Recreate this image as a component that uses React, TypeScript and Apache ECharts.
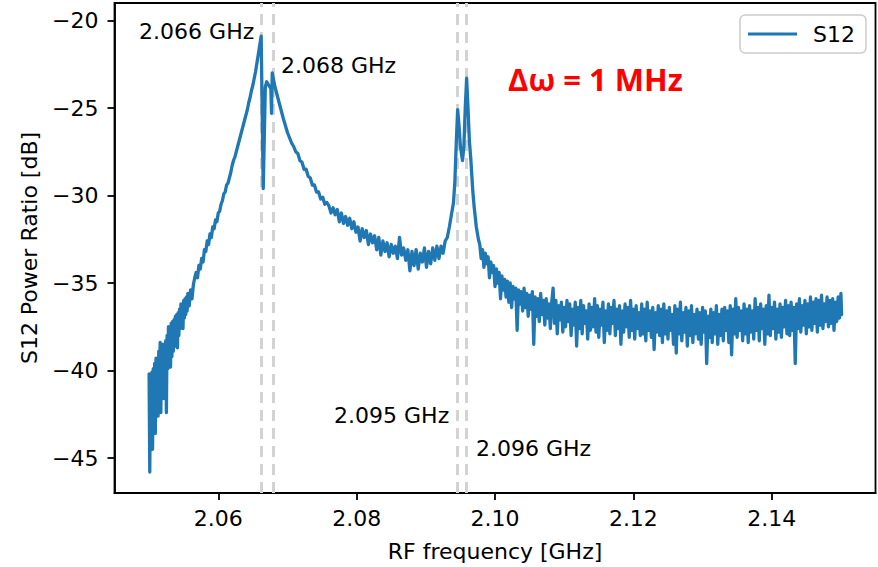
import React, { useEffect, useRef } from "react";
import * as echarts from "echarts";

// ---- data ----
const rampStart: [number, number][] = [
  [2.05, -40.2], [2.0501, -45.8], [2.0502, -40.3], [2.0503, -43.9], [2.0504, -40.1], [2.0505, -44.5],
  [2.0506, -39.9], [2.0507, -42.8], [2.0508, -39.6], [2.0509, -43.6], [2.051, -39.3], [2.0511, -41.9],
  [2.0512, -39.4], [2.0513, -42.6], [2.0514, -38.9], [2.0515, -41.5], [2.0516, -38.4], [2.0517, -42.4],
  [2.0518, -38.8], [2.0519, -40.9], [2.052, -38.5], [2.0521, -41.6], [2.0522, -38.6], [2.0523, -40.8],
  [2.0524, -38.3], [2.0525, -42.4], [2.0526, -38.0], [2.0527, -39.9], [2.0528, -37.5], [2.0529, -39.6],
  [2.053, -37.8], [2.0531, -39.8], [2.0532, -37.3], [2.0533, -39.2], [2.0534, -37.2], [2.0535, -38.9],
  [2.0536, -37.1], [2.0537, -38.6], [2.0538, -36.9], [2.0539, -38.4], [2.054, -36.8], [2.0541, -38.7],
  [2.0542, -36.7], [2.0543, -38.0], [2.0544, -36.5], [2.0545, -37.6], [2.0546, -36.2], [2.0547, -37.4],
  [2.0548, -36.3], [2.0549, -37.6], [2.055, -36.0], [2.0551, -37.0], [2.0552, -35.9], [2.0553, -36.8],
  [2.0554, -35.8], [2.0555, -36.6], [2.0556, -35.6], [2.0558, -36.3], [2.056, -35.4], [2.0562, -35.9],
  [2.0564, -35.1],
];

const riseToPeak: [number, number][] = [
  [2.0566, -34.7], [2.0568, -34.4], [2.057, -34.7], [2.0572, -34.0], [2.0574, -34.2], [2.0576, -33.6],
  [2.0578, -33.8], [2.058, -33.1], [2.0582, -33.2], [2.0584, -32.6], [2.0586, -32.8], [2.0588, -32.2],
  [2.059, -32.4], [2.0592, -31.8], [2.0594, -31.9], [2.0596, -31.4], [2.0598, -31.5], [2.06, -31.0],
  [2.0602, -30.9], [2.0604, -30.5], [2.0606, -30.3], [2.0608, -29.9], [2.061, -29.8], [2.0612, -29.4],
  [2.0614, -29.3], [2.0616, -29.0], [2.0618, -28.7], [2.062, -28.3], [2.0622, -28.0], [2.0624, -27.8],
  [2.0626, -27.5], [2.0628, -27.2], [2.063, -26.9], [2.0632, -26.6], [2.0634, -26.3], [2.0636, -26.0],
  [2.0638, -25.7], [2.064, -25.4], [2.0642, -25.1], [2.0644, -24.7], [2.0646, -24.4], [2.0648, -24.0],
  [2.065, -23.7], [2.0652, -23.3], [2.0654, -22.9], [2.0656, -22.4], [2.0658, -21.9], [2.066, -21.4],
  [2.0662, -20.9],
];

const firstPair: [number, number][] = [
  [2.0665, -29.6], [2.0668, -23.8], [2.067, -23.5], [2.0673, -23.7], [2.0676, -23.9], [2.0677, -25.3],
  [2.0678, -23.0], [2.068, -23.4],
];

const decay: [number, number][] = [
  [2.0682, -23.8], [2.0684, -24.1], [2.0686, -24.4], [2.0688, -24.7], [2.069, -25.0], [2.0692, -25.3],
  [2.0694, -25.6], [2.0697, -26.0], [2.07, -26.4], [2.0703, -26.7], [2.0706, -27.0], [2.0709, -27.2],
  [2.0712, -27.5], [2.0715, -27.6], [2.0718, -28.0], [2.0721, -28.1], [2.0724, -28.5], [2.0727, -28.5],
  [2.073, -28.9], [2.0733, -29.0], [2.0736, -29.4], [2.0739, -29.4], [2.0742, -29.8], [2.0745, -29.8],
  [2.0748, -30.2], [2.0751, -30.1], [2.0754, -30.5], [2.0757, -30.4], [2.076, -30.6], [2.0763, -31.0],
  [2.0766, -30.7], [2.0769, -31.1], [2.0772, -30.8], [2.0775, -31.5], [2.0778, -31.0], [2.0781, -31.6],
  [2.0784, -31.2], [2.0787, -31.7], [2.079, -31.3], [2.0793, -31.9], [2.0796, -31.5], [2.0799, -32.1],
  [2.0802, -31.8], [2.0805, -32.6], [2.0808, -31.9], [2.0811, -32.4], [2.0814, -32.0], [2.0817, -32.8],
  [2.082, -32.2], [2.0823, -32.7], [2.0826, -32.3], [2.0829, -33.1], [2.0832, -32.4], [2.0835, -33.4],
  [2.0838, -32.6], [2.0841, -33.2], [2.0844, -32.7], [2.0847, -33.5], [2.085, -32.8], [2.0853, -33.3],
  [2.0856, -32.9], [2.0859, -33.6], [2.0862, -32.4], [2.0865, -33.4], [2.0868, -33.0], [2.0871, -33.7],
  [2.0874, -33.1], [2.0877, -34.3], [2.088, -33.2], [2.0883, -34.0], [2.0886, -33.1], [2.0889, -34.2],
  [2.0892, -33.3], [2.0895, -33.8], [2.0898, -33.0], [2.0901, -34.1], [2.0904, -33.2], [2.0907, -33.9],
  [2.091, -33.0], [2.0913, -33.7], [2.0916, -32.9], [2.0919, -33.6], [2.0922, -32.9], [2.0925, -33.3],
  [2.0928, -32.6], [2.0931, -32.4], [2.0934, -31.8],
];

const secondPair: [number, number][] = [
  [2.0937, -31.1], [2.094, -30.4], [2.0942, -29.2], [2.0944, -27.0], [2.0946, -25.1], [2.0948, -26.0],
  [2.095, -27.2], [2.0953, -28.0], [2.0955, -27.2], [2.0957, -25.0], [2.0959, -23.3], [2.0961, -25.0],
  [2.0963, -26.9], [2.0965, -27.9], [2.0968, -29.8], [2.097, -30.7], [2.0973, -31.8], [2.0976, -32.5],
];

const tail: [number, number][] = [
  [2.0978, -32.8], [2.098, -33.6], [2.0982, -33.1], [2.0984, -34.1], [2.0986, -33.3], [2.0988, -33.9],
  [2.099, -33.5], [2.0992, -34.7], [2.0994, -33.8], [2.0996, -34.4], [2.0998, -34.0], [2.1, -35.2],
  [2.1002, -34.2], [2.1004, -35.0], [2.1006, -34.4], [2.1008, -35.9], [2.101, -34.6], [2.1012, -35.4],
  [2.1014, -34.8], [2.1016, -35.8], [2.1018, -34.9], [2.102, -36.1], [2.1022, -35.0], [2.1024, -36.4],
  [2.1026, -35.2], [2.1028, -35.9], [2.103, -35.3], [2.1032, -37.7], [2.1034, -35.4], [2.1036, -36.2],
  [2.1038, -35.5], [2.104, -36.6], [2.1042, -35.3], [2.1044, -36.4], [2.1046, -35.6], [2.1048, -36.9],
  [2.105, -35.7], [2.1052, -36.5], [2.1054, -35.5], [2.1056, -38.5], [2.1058, -35.8], [2.106, -36.9],
  [2.1062, -35.9], [2.1064, -37.2], [2.1066, -35.6], [2.1068, -36.8], [2.107, -36.0], [2.1072, -37.4],
  [2.1074, -35.9], [2.1076, -37.0], [2.1078, -36.2], [2.108, -37.6], [2.1082, -36.1], [2.1084, -35.3],
  [2.1086, -37.3], [2.1088, -36.0], [2.109, -37.9], [2.1092, -36.3], [2.1094, -37.1], [2.1096, -36.1],
  [2.1098, -37.8], [2.11, -36.4], [2.1102, -37.5], [2.1104, -36.0], [2.1106, -37.2], [2.1108, -36.2],
  [2.111, -38.0], [2.1112, -36.5], [2.1114, -37.4], [2.1116, -36.1], [2.1118, -38.6], [2.112, -36.4],
  [2.1122, -37.6], [2.1124, -36.0], [2.1126, -37.9], [2.1128, -36.3], [2.113, -37.3], [2.1132, -36.6],
  [2.1134, -38.2], [2.1136, -36.2], [2.1138, -37.7], [2.114, -36.4], [2.1142, -37.5], [2.1144, -35.9],
  [2.1146, -37.8], [2.1148, -36.3], [2.115, -38.1], [2.1152, -36.5], [2.1154, -37.4], [2.1156, -36.1],
  [2.1158, -38.4], [2.116, -36.6], [2.1162, -37.7], [2.1164, -36.2], [2.1166, -37.9], [2.1168, -36.4],
  [2.117, -37.3], [2.1172, -36.0], [2.1174, -38.0], [2.1176, -36.5], [2.1178, -37.6], [2.118, -36.3],
  [2.1182, -38.5], [2.1184, -36.6], [2.1186, -37.8], [2.1188, -36.2], [2.119, -37.5], [2.1192, -36.4],
  [2.1194, -38.1], [2.1196, -36.0], [2.1198, -37.7], [2.12, -36.5], [2.1202, -38.2], [2.1204, -36.3],
  [2.1206, -37.6], [2.1208, -36.7], [2.121, -38.0], [2.1212, -36.2], [2.1214, -37.9], [2.1216, -36.5],
  [2.1218, -38.3], [2.122, -36.1], [2.1222, -37.7], [2.1224, -36.6], [2.1226, -38.1], [2.1228, -36.4],
  [2.123, -38.8], [2.1232, -36.7], [2.1234, -37.8], [2.1236, -36.3], [2.1238, -38.0], [2.124, -36.5],
  [2.1242, -38.4], [2.1244, -36.2], [2.1246, -37.9], [2.1248, -36.6], [2.125, -38.2], [2.1252, -36.4],
  [2.1254, -37.7], [2.1256, -36.8], [2.1258, -38.5], [2.126, -36.3], [2.1262, -39.0], [2.1264, -36.5],
  [2.1266, -37.9], [2.1268, -36.1], [2.127, -38.3], [2.1272, -36.7], [2.1274, -37.8], [2.1276, -36.4],
  [2.1278, -38.6], [2.128, -36.6], [2.1282, -38.0], [2.1284, -36.3], [2.1286, -38.4], [2.1288, -36.8],
  [2.129, -37.9], [2.1292, -36.5], [2.1294, -38.2], [2.1296, -36.7], [2.1298, -38.5], [2.13, -36.4],
  [2.1302, -37.8], [2.1304, -36.6], [2.1306, -39.6], [2.1308, -36.9], [2.131, -38.1], [2.1312, -36.5],
  [2.1314, -38.4], [2.1316, -36.7], [2.1318, -37.9], [2.132, -36.3], [2.1322, -38.5], [2.1324, -36.8],
  [2.1326, -38.0], [2.1328, -36.5], [2.133, -38.3], [2.1332, -36.4], [2.1334, -37.7], [2.1336, -36.6],
  [2.1338, -38.4], [2.134, -36.3], [2.1342, -39.1], [2.1344, -36.5], [2.1346, -37.9], [2.1348, -35.9],
  [2.135, -38.1], [2.1352, -36.4], [2.1354, -37.7], [2.1356, -36.6], [2.1358, -38.3], [2.136, -36.2],
  [2.1362, -37.9], [2.1364, -36.5], [2.1366, -38.4], [2.1368, -36.3], [2.137, -37.8], [2.1372, -36.6],
  [2.1374, -38.2], [2.1376, -35.9], [2.1378, -37.7], [2.138, -36.4], [2.1382, -38.3], [2.1384, -36.2],
  [2.1386, -37.6], [2.1388, -36.5], [2.139, -38.5], [2.1392, -36.3], [2.1394, -37.9], [2.1396, -35.7],
  [2.1398, -38.0], [2.14, -36.4], [2.1402, -37.6], [2.1404, -36.1], [2.1406, -38.2], [2.1408, -36.5],
  [2.141, -37.8], [2.1412, -36.2], [2.1414, -38.1], [2.1416, -36.4], [2.1418, -37.5], [2.142, -36.0],
  [2.1422, -37.9], [2.1424, -36.3], [2.1426, -38.0], [2.1428, -36.1], [2.143, -37.7], [2.1432, -36.4],
  [2.1434, -39.6], [2.1436, -36.2], [2.1438, -37.6], [2.144, -35.9], [2.1442, -37.8], [2.1444, -36.3],
  [2.1446, -37.4], [2.1448, -36.0], [2.145, -37.9], [2.1452, -36.2], [2.1454, -37.5], [2.1456, -35.8],
  [2.1458, -37.7], [2.146, -36.1], [2.1462, -37.3], [2.1464, -35.9], [2.1466, -37.8], [2.1468, -36.0],
  [2.147, -37.4], [2.1472, -35.7], [2.1474, -37.6], [2.1476, -36.2], [2.1478, -37.2], [2.148, -35.8],
  [2.1482, -37.5], [2.1484, -36.0], [2.1486, -37.3], [2.1488, -35.9], [2.149, -37.7], [2.1492, -36.1],
  [2.1494, -37.2], [2.1496, -35.8], [2.1498, -37.0], [2.15, -35.6], [2.1501, -36.8],
];

const peakMarkers = [2.0662, 2.0679, 2.0946, 2.0959];
const peakLabels = ["2.066 GHz", "2.068 GHz", "2.095 GHz", "2.096 GHz"];
const peakLabelX = [2.0652, 2.06906, 2.09338, 2.09724];
const peakLabelY = [-20.61, -22.58, -42.57, -44.47];
const peakLabelSide = ["left", "right", "left", "right"];

const xTicks = [2.06, 2.08, 2.1, 2.12, 2.14];
const yTicks = [-45, -40, -35, -30, -25, -20];

const FONT = "DejaVu Sans";

export default function App() {
  const ref = useRef<HTMLDivElement>(null);
  useEffect(() => {
    if (!ref.current) return;
    const chart = echarts.init(ref.current, undefined, { renderer: "svg" });
    const s12Data = [...rampStart, ...riseToPeak, ...firstPair, ...decay, ...secondPair, ...tail];
    const axisLineStyle = { color: "#000", width: 1.8 };
    chart.setOption({
      animation: false,
      backgroundColor: "#fff",
      grid: {
        left: 114.5,
        right: 2.5,
        top: 3,
        bottom: 69,
        show: true,
        borderColor: "#000",
        borderWidth: 1.8,
        backgroundColor: "transparent",
      },
      legend: {
        data: [{ name: "S12", icon: "rect" }],
        left: 740,
        top: 15,
        padding: [8, 11, 8, 8],
        itemWidth: 49,
        itemHeight: 3,
        borderColor: "#cccccc",
        borderWidth: 1.5,
        borderRadius: 5,
        backgroundColor: "rgba(255,255,255,0.8)",
        textStyle: { fontSize: 22, fontFamily: FONT, color: "#000", padding: [0, 0, 0, 11] },
      },
      xAxis: {
        type: "value",
        min: 2.045,
        max: 2.155,
        name: "RF frequency [GHz]",
        nameLocation: "middle",
        nameGap: 47,
        nameTextStyle: { fontSize: 22, fontFamily: FONT, color: "#000", lineHeight: 22 },
        axisLine: { show: true, onZero: false, lineStyle: axisLineStyle },
        axisTick: { show: true, length: 7, lineStyle: axisLineStyle, customValues: xTicks },
        axisLabel: {
          customValues: xTicks,
          formatter: (v: number) => v.toFixed(2),
          fontSize: 22,
          fontFamily: FONT,
          color: "#000",
          margin: 14,
          lineHeight: 22,
        },
        splitLine: { show: false },
      },
      yAxis: {
        type: "value",
        min: -47,
        max: -19,
        name: "S12 Power Ratio [dB]",
        nameLocation: "middle",
        nameGap: 74,
        nameTextStyle: { fontSize: 22, fontFamily: FONT, color: "#000", lineHeight: 22 },
        axisLine: { show: true, onZero: false, lineStyle: axisLineStyle },
        axisTick: { show: true, length: 7, lineStyle: axisLineStyle, customValues: yTicks },
        axisLabel: {
          customValues: yTicks,
          formatter: (v: number) => (v < 0 ? "\u2212" + Math.abs(v) : String(v)),
          fontSize: 22,
          fontFamily: FONT,
          color: "#000",
          margin: 16,
        },
        splitLine: { show: false },
      },
      series: [
        {
          name: "S12",
          type: "line",
          data: s12Data,
          showSymbol: false,
          symbol: "none",
          color: "#1f77b4",
          lineStyle: { width: 3.3, color: "#1f77b4", join: "round", cap: "round" },
          emphasis: { disabled: true },
          z: 3,
          markLine: {
            silent: true,
            z: 1,
            precision: 5,
            symbol: ["none", "none"],
            label: { show: false },
            emphasis: { disabled: true },
            lineStyle: { type: [11, 7], color: "#d3d3d3", width: 3 },
            data: peakMarkers.map((f) => ({ xAxis: f })),
          },
          markPoint: {
            silent: true,
            symbol: "circle",
            symbolSize: 0,
            data: peakLabels.map((t, i) => ({
              coord: [peakLabelX[i], peakLabelY[i]],
              value: t,
              label: {
                show: true,
                position: peakLabelSide[i],
                distance: 0,
                formatter: t,
                fontSize: 22,
                fontFamily: FONT,
                color: "#000",
              },
            })),
          },
        },
      ],
      graphic: [
        {
          type: "text",
          left: 508,
          top: 63,
          style: {
            text: "\u0394\u03c9 = 1 MHz",
            font: 'bold 31px "Open Sans"',
            fill: "#ff0000",
          },
        },
      ],
    });
    return () => chart.dispose();
  }, []);
  return (
    <div
      ref={ref}
      style={{ position: "absolute", left: 0, top: 0, width: 878, height: 567 }}
    />
  );
}
